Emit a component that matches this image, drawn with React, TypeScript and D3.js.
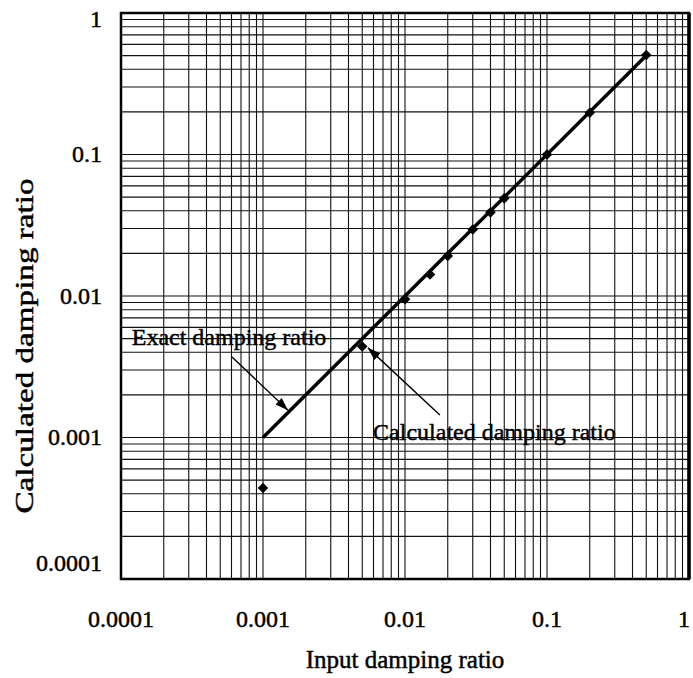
import React, { useRef, useEffect } from 'react';
import * as d3 from 'd3';

// input vs calculated damping ratio
const inputRatio = [0.001, 0.005, 0.01, 0.015, 0.02, 0.03, 0.04, 0.05, 0.1, 0.2, 0.5];
const calculatedRatio = [0.00044, 0.0044, 0.0095, 0.0142, 0.0192, 0.0295, 0.039, 0.049, 0.1, 0.197, 0.505];
const exactRange = [0.001, 0.5];

const tickValues = [0.0001, 0.001, 0.01, 0.1, 1];
const tickLabels = ['0.0001', '0.001', '0.01', '0.1', '1'];

// annotations: label anchor, arrow tail, arrow tip (data coords)
const annoLabels = ['Exact damping ratio', 'Calculated damping ratio'];
const annoText = [[0.000119, 0.00451], [0.00596, 0.00096]];
const annoTail = [[0.000605, 0.00371], [0.0176, 0.00144]];
const annoTip = [[0.0015, 0.00156], [0.00548, 0.0043]];

export default function App() {
  const svgRef = useRef<SVGSVGElement>(null);

  useEffect(() => {
    const width = 693;
    const height = 678;
    const marginLeft = 121;
    const marginRight = 4;
    const marginTop = 13;
    const marginBottom = 99;
    const font = '"Liberation Serif", "Times New Roman", serif';

    const x = d3.scaleLog().domain([1e-4, 1]).range([marginLeft, width - marginRight]);
    const y = d3.scaleLog().domain([1e-4, 1]).range([height - marginBottom, marginTop]);

    const svg = d3.select(svgRef.current)
      .attr('width', width)
      .attr('height', height)
      .attr('viewBox', [0, 0, width, height] as any);
    svg.selectAll('*').remove();

    svg.append('rect')
      .attr('width', width).attr('height', height).attr('fill', 'white');

    // log grid
    const grid = svg.append('g').attr('stroke', '#111').attr('stroke-width', 1.1);
    grid.selectAll('line.v')
      .data(x.ticks())
      .join('line')
        .attr('x1', d => x(d)).attr('x2', d => x(d))
        .attr('y1', y(1e-4)).attr('y2', y(1));
    grid.selectAll('line.h')
      .data(y.ticks())
      .join('line')
        .attr('y1', d => y(d)).attr('y2', d => y(d))
        .attr('x1', x(1e-4)).attr('x2', x(1));

    // frame
    svg.append('rect')
      .attr('x', x(1e-4)).attr('y', y(1))
      .attr('width', x(1) - x(1e-4)).attr('height', y(1e-4) - y(1))
      .attr('fill', 'none').attr('stroke', 'black').attr('stroke-width', 2.5);
    svg.append('line')
      .attr('x1', x(1)).attr('x2', x(1)).attr('y1', y(1)).attr('y2', y(1e-4))
      .attr('stroke', 'black').attr('stroke-width', 3.5);

    // exact line
    svg.append('line')
      .attr('x1', x(exactRange[0])).attr('y1', y(exactRange[0]))
      .attr('x2', x(exactRange[1])).attr('y2', y(exactRange[1]))
      .attr('stroke', 'black').attr('stroke-width', 3.5);

    // calculated points
    svg.append('g')
      .selectAll('path')
      .data(inputRatio.map((v, i) => [v, calculatedRatio[i]]))
      .join('path')
        .attr('transform', d => `translate(${x(d[0])},${y(d[1])}) rotate(45)`)
        .attr('d', d3.symbol(d3.symbolSquare, 56) as any)
        .attr('fill', 'black');

    // arrows
    svg.append('defs').append('marker')
      .attr('id', 'arrow')
      .attr('viewBox', '0 0 13 9')
      .attr('refX', 13).attr('refY', 4.5)
      .attr('markerWidth', 13).attr('markerHeight', 9)
      .attr('markerUnits', 'userSpaceOnUse')
      .attr('orient', 'auto')
      .append('path').attr('d', 'M0,0L13,4.5L0,9Z').attr('fill', 'black');

    const txt = (sel: any, size: number) => sel
      .attr('font-family', font).attr('font-size', size)
      .attr('fill', 'black').attr('stroke', 'black').attr('stroke-width', 0.45);

    annoLabels.forEach((label, i) => {
      svg.append('line')
        .attr('x1', x(annoTail[i][0])).attr('y1', y(annoTail[i][1]))
        .attr('x2', x(annoTip[i][0])).attr('y2', y(annoTip[i][1]))
        .attr('stroke', 'black').attr('stroke-width', 1.4)
        .attr('marker-end', 'url(#arrow)');
      txt(svg.append('text')
        .attr('x', x(annoText[i][0])).attr('y', y(annoText[i][1])), 24)
        .text(label);
    });

    // tick labels
    txt(svg.append('g')
      .selectAll('text')
      .data(tickValues)
      .join('text')
        .attr('x', d => Math.min(x(d), width - 9)).attr('y', height - marginBottom + 48)
        .attr('text-anchor', 'middle'), 24)
        .text((d, i) => tickLabels[i]);

    txt(svg.append('g')
      .selectAll('text')
      .data(tickValues)
      .join('text')
        .attr('x', marginLeft - 19)
        .attr('y', d => Math.min(Math.max(y(d), marginTop + 6), height - marginBottom - 16))
        .attr('dy', '0.33em')
        .attr('text-anchor', 'end'), 24)
        .text((d, i) => tickLabels[i]);

    // axis titles
    txt(svg.append('text')
      .attr('x', (x(1e-4) + x(1)) / 2).attr('y', height - 10)
      .attr('text-anchor', 'middle'), 25)
      .text('Input damping ratio');

    txt(svg.append('text')
      .attr('transform', `translate(33,${(y(1e-4) + y(1)) / 2 + 50}) rotate(-90)`)
      .attr('text-anchor', 'middle')
      .attr('textLength', 335).attr('lengthAdjust', 'spacingAndGlyphs'), 25)
      .text('Calculated damping ratio');
  }, []);

  return (
    <svg ref={svgRef} style={{ position: 'absolute', left: 0, top: 0, display: 'block' }}></svg>
  );
}
